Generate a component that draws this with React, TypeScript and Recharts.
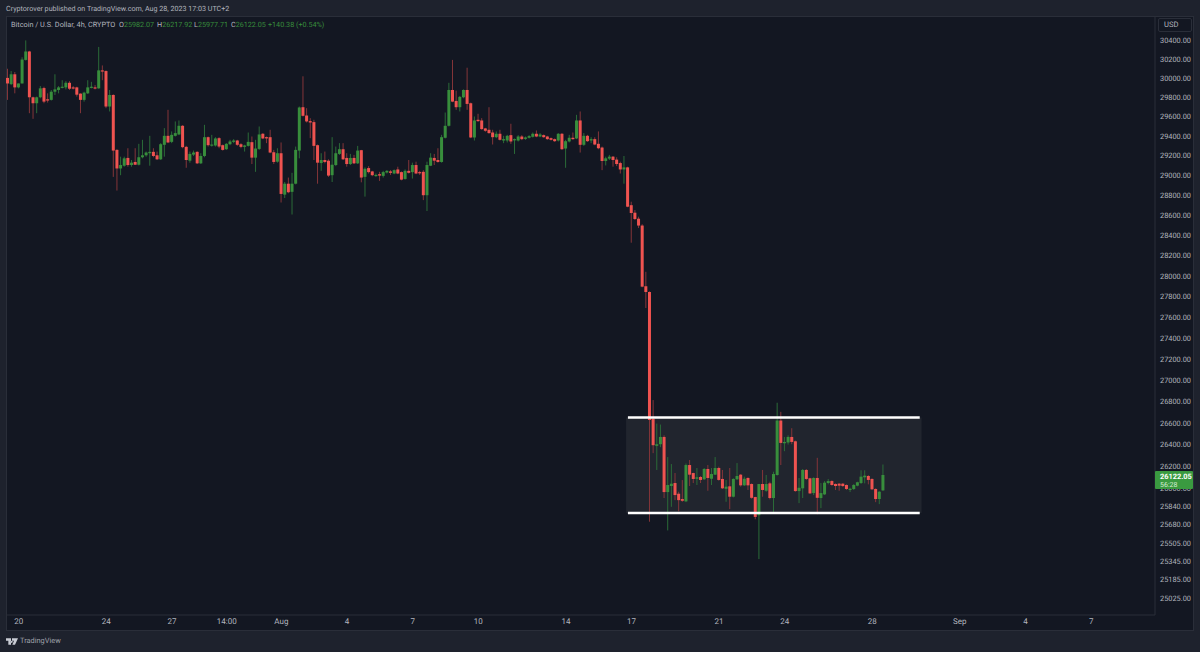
import React from 'react';
import { BarChart, Bar, XAxis, YAxis, ReferenceArea, ReferenceLine } from 'recharts';

// BTCUSD 4h candles, one entry per candle
const OPENS = [
  30003, 29938, 30041, 29904, 29945, 30192, 30281, 29801, 29739, 29801,
  29897, 29780, 29774, 29859, 29877, 29904, 29904, 29952, 29904, 29904,
  29839, 29774, 29842, 29901, 29904, 29894, 30082, 30075, 29705, 29825,
  29259, 29070, 29098, 29177, 29105, 29136, 29108, 29184, 29204, 29225,
  29239, 29204, 29163, 29311, 29403, 29341, 29403, 29417, 29506, 29290,
  29149, 29211, 29239, 29122, 29197, 29389, 29307, 29304, 29379, 29307,
  29266, 29317, 29341, 29355, 29317, 29290, 29300, 29338, 29180, 29269,
  29424, 29389, 29389, 29235, 29139, 29225, 28806, 28916, 28834, 28916,
  29252, 29698, 29612, 29554, 29544, 29307, 29125, 29156, 29149, 29002,
  29105, 29218, 29266, 29177, 29115, 29177, 29122, 29256, 28985, 29074,
  29040, 29002, 29012, 28995, 29029, 29040, 29019, 29060, 29033, 28964,
  29046, 29033, 29105, 29033, 29036, 28800, 29098, 29177, 29156, 29136,
  29383, 29506, 29877, 29763, 29698, 29801, 29877, 29739, 29386, 29568,
  29561, 29479, 29465, 29437, 29389, 29424, 29355, 29355, 29410, 29362,
  29355, 29396, 29372, 29383, 29393, 29424, 29396, 29410, 29396, 29379,
  29369, 29355, 29424, 29273, 29345, 29383, 29376, 29561, 29311, 29403,
  29355, 29369, 29321, 29283, 29146, 29170, 29190, 29160, 29125, 29060,
  29081, 28700, 28625, 28565, 28497, 27900, 27844, 26640, 26389, 26404,
  26471, 25967, 26022, 26049, 25952, 25904, 25883, 26213, 26140, 26088,
  26104, 26083, 26177, 26088, 26125, 26186, 26086, 25997, 26019, 25925,
  26083, 26125, 26028, 26095, 26040, 25922, 25758, 26040, 25979, 26046,
  25913, 26122, 26623, 26413, 26420, 26471, 26431, 25976, 26001, 26168,
  26092, 25958, 26095, 25913, 25946, 26049, 26067, 26040, 26043, 26043,
  26031, 25988, 25995, 26025, 26049, 26101, 26113, 26086, 25995, 25904,
  25982.07,
];
const HIGHS = [
  30099, 30075, 30065, 29945, 30220, 30398, 30288, 29808, 29808, 29918,
  29911, 29842, 29877, 30041, 29918, 29979, 29969, 29969, 29918, 29911,
  29842, 29859, 29979, 29962, 29928, 30329, 30134, 30082, 29877, 29832,
  29266, 29190, 29190, 29276, 29156, 29276, 29321, 29362, 29242, 29403,
  29276, 29242, 29328, 29482, 29671, 29448, 29551, 29561, 29513, 29300,
  29242, 29252, 29245, 29225, 29516, 29396, 29413, 29389, 29389, 29314,
  29328, 29362, 29369, 29362, 29328, 29311, 29437, 29396, 29362, 29499,
  29431, 29396, 29465, 29259, 29276, 29335, 28933, 28978, 29026, 29293,
  29705, 30020, 29688, 29585, 29568, 29314, 29225, 29242, 29163, 29389,
  29293, 29328, 29328, 29225, 29218, 29208, 29300, 29259, 29081, 29094,
  29046, 29019, 29036, 29046, 29053, 29053, 29060, 29088, 29040, 29060,
  29156, 29129, 29139, 29046, 29053, 29139, 29225, 29218, 29276, 29413,
  29643, 29952, 30192, 29870, 29815, 29883, 30110, 29746, 29602, 29630,
  29585, 29485, 29698, 29465, 29448, 29465, 29403, 29413, 29527, 29376,
  29410, 29410, 29396, 29410, 29437, 29458, 29431, 29417, 29403, 29386,
  29376, 29431, 29431, 29362, 29413, 29437, 29619, 29654, 29431, 29413,
  29389, 29389, 29448, 29293, 29190, 29208, 29197, 29184, 29139, 29197,
  29088, 28735, 28652, 28585, 28510, 28041, 27850, 26814, 26595, 26586,
  26486, 26286, 26222, 26140, 25970, 26076, 26227, 26259, 26143, 26186,
  26113, 26186, 26213, 26186, 26286, 26198, 26168, 26077, 26186, 26092,
  26231, 26131, 26107, 26101, 26046, 25925, 26040, 26168, 26122, 26061,
  26152, 26789, 26704, 26471, 26486, 26552, 26438, 26095, 26177, 26177,
  26097, 26101, 26279, 26049, 26067, 26086, 26074, 26046, 26049, 26049,
  26037, 26006, 26040, 26061, 26165, 26165, 26122, 26092, 26001, 25976,
  26217.92,
];
const LOWS = [
  29774, 29928, 29842, 29894, 29945, 30185, 29636, 29578, 29636, 29791,
  29739, 29746, 29767, 29825, 29842, 29894, 29883, 29877, 29883, 29808,
  29636, 29756, 29835, 29894, 29883, 29890, 29979, 29688, 29654, 28985,
  28847, 29002, 29088, 29088, 29088, 29105, 29101, 29173, 29190, 29098,
  29184, 29156, 29156, 29190, 29328, 29328, 29396, 29410, 29276, 29077,
  29129, 29197, 29115, 29115, 29184, 29293, 29293, 29293, 29276, 29252,
  29259, 29307, 29328, 29300, 29276, 29242, 29293, 29115, 29036, 29259,
  29369, 29328, 29225, 29115, 29129, 28727, 28772, 28820, 28607, 28909,
  29173, 29602, 29540, 29379, 29156, 28916, 29046, 29122, 28985, 28933,
  29094, 29208, 29156, 29088, 29105, 29115, 29115, 28930, 28786, 29019,
  28992, 28985, 28944, 28978, 29019, 29005, 29012, 29012, 28950, 28957,
  29019, 28968, 29012, 29005, 28751, 28642, 29094, 29105, 29129, 29129,
  29376, 29499, 29750, 29671, 29654, 29791, 29671, 29379, 29355, 29547,
  29465, 29444, 29424, 29314, 29379, 29355, 29328, 29335, 29321, 29218,
  29345, 29359, 29362, 29376, 29386, 29389, 29389, 29383, 29362, 29355,
  29341, 29345, 29259, 29077, 29335, 29362, 29369, 29232, 29300, 29341,
  29328, 29307, 29266, 29053, 29101, 29156, 29088, 29094, 29019, 28916,
  28680, 28327, 28552, 28472, 27890, 27689, 25700, 26322, 26168, 26377,
  25913, 25622, 25834, 25894, 25794, 25879, 25876, 26022, 26049, 26031,
  26049, 26077, 25979, 26031, 26122, 26070, 25995, 25879, 25813, 25919,
  26077, 26016, 26022, 25986, 25906, 25722, 25367, 25925, 25970, 25901,
  25788, 26116, 26213, 26340, 26401, 26404, 25970, 25867, 25913, 26077,
  25949, 25940, 25767, 25822, 25940, 26037, 26025, 25986, 25979, 26013,
  25986, 25967, 25986, 26019, 26040, 26046, 26037, 25986, 25876, 25858,
  25977.71,
];
const CLOSES = [
  29945, 30041, 29904, 29945, 30196, 30281, 29801, 29739, 29801, 29894,
  29756, 29767, 29859, 29883, 29904, 29911, 29952, 29890, 29894, 29828,
  29774, 29849, 29904, 29911, 29897, 30082, 30075, 29705, 29825, 29252,
  29070, 29105, 29173, 29105, 29129, 29108, 29184, 29204, 29232, 29239,
  29197, 29163, 29317, 29403, 29335, 29413, 29431, 29506, 29287, 29156,
  29218, 29232, 29122, 29197, 29389, 29307, 29314, 29376, 29293, 29259,
  29321, 29345, 29355, 29311, 29290, 29304, 29341, 29180, 29273, 29417,
  29376, 29379, 29232, 29136, 29225, 28813, 28916, 28830, 28916, 29259,
  29695, 29609, 29551, 29540, 29300, 29129, 29156, 29136, 28998, 29108,
  29225, 29266, 29163, 29115, 29177, 29122, 29252, 28978, 29067, 29033,
  29002, 29005, 28998, 29033, 29046, 29026, 29053, 29019, 28957, 29046,
  29026, 29105, 29019, 29026, 28800, 29105, 29180, 29149, 29136, 29389,
  29506, 29877, 29756, 29698, 29805, 29877, 29732, 29386, 29561, 29554,
  29472, 29455, 29431, 29389, 29424, 29362, 29369, 29403, 29345, 29369,
  29396, 29369, 29386, 29400, 29424, 29396, 29417, 29389, 29369, 29362,
  29348, 29424, 29266, 29348, 29383, 29369, 29561, 29311, 29403, 29348,
  29369, 29314, 29276, 29146, 29173, 29190, 29156, 29115, 29060, 29081,
  28685, 28622, 28562, 28497, 27896, 27844, 26628, 26395, 26404, 26471,
  25967, 26031, 26043, 25940, 25894, 25888, 26213, 26125, 26086, 26101,
  26077, 26177, 26095, 26131, 26186, 26077, 26001, 26016, 25925, 26086,
  26113, 26028, 26088, 26028, 25915, 25743, 26040, 25986, 26040, 25913,
  26131, 26623, 26416, 26425, 26471, 26425, 25976, 26006, 26168, 26086,
  25955, 26095, 25915, 25958, 26052, 26067, 26031, 26022, 26025, 26022,
  25995, 25997, 26031, 26056, 26107, 26116, 26077, 25992, 25904, 25970,
  26122.05,
];

const LAST_PRICE = 26122.05;
// last price goes at the end so its tag paints over the tick behind it
const PRICE_TICKS = [
  30400, 30200, 30000, 29800, 29600, 29400, 29200, 29000, 28800, 28600, 28400,
  28200, 28000, 27800, 27600, 27400, 27200, 27000, 26800, 26600, 26400, 26200,
  26000, 25840, 25680, 25505, 25345, 25185, 25025, LAST_PRICE,
];
const TIME_SLOTS = [3, 27, 45, 60, 75, 93, 111, 129, 153, 171, 195, 213, 237, 261, 279, 297];
const TIME_LABELS = ['20', '24', '27', '14:00', 'Aug', '4', '7', '10', '14', '17', '21', '24', '28', 'Sep', '4', '7'];
const SLOT_COUNT = 315;

const RANGE_TOP = 26651;
const RANGE_BOTTOM = 25778;
const RANGE_START = 170;
const RANGE_END = 250;

const UP = '#388e3c';
const DOWN = '#ef5350';
const UP_WICK = '#2b6b38';
const DOWN_WICK = '#843539';
const TEXT = '#b2b5be';
const FONT = 'Roboto, sans-serif';

const rows = Array.from({ length: SLOT_COUNT }, (_, slot) => {
  if (slot >= OPENS.length) return { slot };
  const o = OPENS[slot];
  const c = CLOSES[slot];
  return {
    slot,
    up: c >= o,
    wick: [LOWS[slot], HIGHS[slot]],
    body: [Math.min(o, c), Math.max(o, c)],
  };
});

const Wick = (p: any) => (
  <rect x={p.x} y={p.y} width={p.width} height={p.height} fill={p.payload.up ? UP_WICK : DOWN_WICK} />
);

const Body = (p: any) => (
  <rect x={p.x} y={p.y} width={p.width} height={Math.max(p.height, 1.2)} fill={p.payload.up ? UP : DOWN} />
);

const PriceTick = ({ x, y, payload }: any) => {
  if (payload.value === LAST_PRICE) {
    return (
      <g>
        <rect x={x - 5} y={y - 4} width={38} height={18} rx={1} fill="#3a9a40" />
        <text x={x} y={y + 3.5} fontSize={7.4} fontWeight={700} fontFamily={FONT} fill="#ffffff">26122.05</text>
        <text x={x} y={y + 11.5} fontSize={7} fontFamily={FONT} fill="#d6ecd7">56:28</text>
      </g>
    );
  }
  return (
    <text x={x} y={y + 2.7} fontSize={7.4} fontFamily={FONT} fill={TEXT}>
      {payload.value.toFixed(2)}
    </text>
  );
};

const fmtTime = (slot: number) => TIME_LABELS[TIME_SLOTS.indexOf(slot)] ?? '';

const LEGEND_VALUES = [
  { left: 119, name: 'O', value: '25982.07' },
  { left: 157, name: 'H', value: '26217.92' },
  { left: 194, name: 'L', value: '25977.71' },
  { left: 231, name: 'C', value: '26122.05' },
  { left: 268, name: '', value: '+140.38 (+0.54%)' },
];

const Header: React.FC = () => (
  <>
    <div style={{ position: 'absolute', left: 6, top: 4, fontSize: 7.15, lineHeight: '10px', color: TEXT, whiteSpace: 'nowrap' }}>
      Cryptorover published on TradingView.com, Aug 28, 2023 17:03 UTC+2
    </div>
    <div style={{ position: 'absolute', left: 11, top: 20, fontSize: 7.3, lineHeight: '10px', color: TEXT, whiteSpace: 'nowrap' }}>
      Bitcoin / U.S. Dollar, 4h, CRYPTO
    </div>
    {LEGEND_VALUES.map((v) => (
      <div
        key={v.left}
        style={{ position: 'absolute', left: v.left, top: 20, fontSize: 7.2, lineHeight: '10px', color: TEXT, whiteSpace: 'nowrap' }}
      >
        {v.name}<span style={{ color: UP }}>{v.value}</span>
      </div>
    ))}
    <div
      style={{
        position: 'absolute', left: 1158, top: 18, width: 34, height: 14, boxSizing: 'border-box',
        border: '1px solid #2a2e39', borderRadius: 2, fontSize: 7.6, lineHeight: '12px',
        color: TEXT, paddingLeft: 5,
      }}
    >
      USD
    </div>
    <svg width="12" height="7" viewBox="0 0 36 20" style={{ position: 'absolute', left: 6, top: 638 }}>
      <path d="M0 0H15V20H7V8H0Z M18 0H36L27 20H19L24 8H18Z M17 8a3 3 0 1 0 .01 0Z" fill="#c9ccd4" />
    </svg>
    <div style={{ position: 'absolute', left: 20, top: 636, fontSize: 7.4, lineHeight: '10px', color: '#9ea1aa' }}>TradingView</div>
  </>
);

export default function App() {
  return (
    <div
      style={{
        position: 'fixed', left: 0, top: 0, width: 1200, height: 652, background: '#1e222d',
        fontFamily: FONT, textRendering: 'geometricPrecision',
      }}
    >
      <div
        style={{
          position: 'absolute', left: 6, top: 16, width: 1188, height: 615, boxSizing: 'border-box',
          background: '#131722', border: '1px solid #2a2e39',
        }}
      />
      <Header />
      <div style={{ position: 'absolute', left: 0, top: 0 }}>
        <BarChart width={1200} height={652} data={rows} margin={{ top: 16, right: 6, bottom: 22, left: 6 }}>
          <XAxis
            xAxisId="main"
            dataKey="slot"
            type="category"
            height={15}
            ticks={TIME_SLOTS}
            interval={0}
            tickFormatter={fmtTime}
            tick={{ fill: TEXT, fontSize: 8, fontFamily: FONT }}
            tickLine={false}
            tickSize={0}
            tickMargin={3}
            axisLine={{ stroke: '#2a2e39' }}
          />
          <XAxis xAxisId="bodies" dataKey="slot" type="category" orientation="top" height={0} hide />
          <YAxis
            orientation="right"
            width={39}
            scale="log"
            domain={[24877, 30658]}
            allowDataOverflow
            ticks={PRICE_TICKS}
            interval={0}
            tick={<PriceTick />}
            tickLine={false}
            tickSize={0}
            tickMargin={5}
            axisLine={{ stroke: '#2a2e39' }}
          />
          <ReferenceArea
            xAxisId="main"
            x1={RANGE_START}
            x2={RANGE_END}
            y1={RANGE_BOTTOM}
            y2={RANGE_TOP}
            fill="#8a8a8a"
            fillOpacity={0.12}
            stroke="none"
          />
          <Bar xAxisId="main" dataKey="wick" barSize={1} shape={Wick} isAnimationActive={false} />
          <Bar xAxisId="bodies" dataKey="body" barSize={3} shape={Body} isAnimationActive={false} />
          <ReferenceLine
            xAxisId="main"
            segment={[{ x: RANGE_START, y: RANGE_TOP }, { x: RANGE_END, y: RANGE_TOP }]}
            stroke="#ffffff"
            strokeWidth={2.4}
          />
          <ReferenceLine
            xAxisId="main"
            segment={[{ x: RANGE_START, y: RANGE_BOTTOM }, { x: RANGE_END, y: RANGE_BOTTOM }]}
            stroke="#ffffff"
            strokeWidth={2.4}
          />
        </BarChart>
      </div>
    </div>
  );
}
